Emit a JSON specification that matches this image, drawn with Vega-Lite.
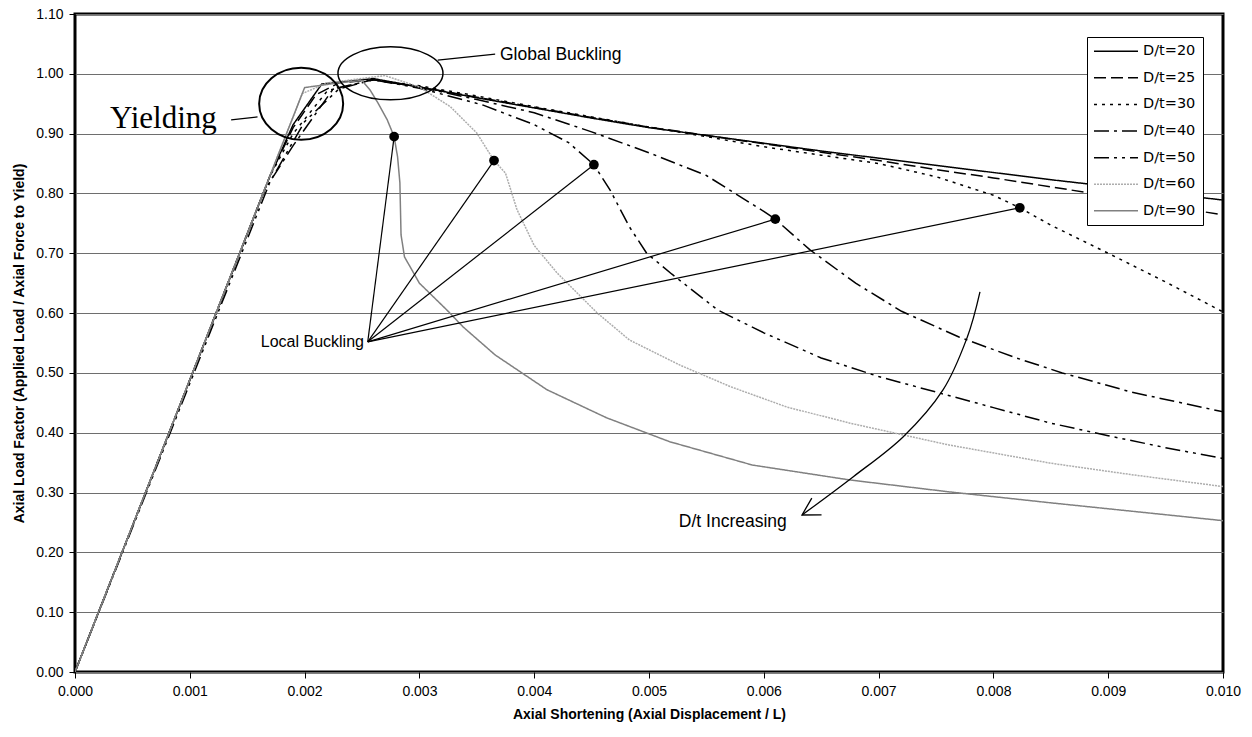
{
  "$schema": "https://vega.github.io/schema/vega-lite/v6.json",
  "width": 1148,
  "height": 658,
  "autosize": {"type": "none"},
  "padding": {"left": 75, "top": 14, "right": 29, "bottom": 65},
  "background": "white",
  "datasets": {
    "curves": [
      {"s": "D/t=20", "x": 0, "y": 0}, {"s": "D/t=20", "x": 0.0017, "y": 0.83}, {"s": "D/t=20", "x": 0.0019, "y": 0.915}, {"s": "D/t=20", "x": 0.00215, "y": 0.983}, {"s": "D/t=20", "x": 0.0026, "y": 0.992}, {"s": "D/t=20", "x": 0.003, "y": 0.978}, {"s": "D/t=20", "x": 0.0035, "y": 0.96}, {"s": "D/t=20", "x": 0.004, "y": 0.943}, {"s": "D/t=20", "x": 0.0045, "y": 0.926}, {"s": "D/t=20", "x": 0.005, "y": 0.91}, {"s": "D/t=20", "x": 0.0055, "y": 0.897}, {"s": "D/t=20", "x": 0.006, "y": 0.884}, {"s": "D/t=20", "x": 0.0065, "y": 0.871}, {"s": "D/t=20", "x": 0.007, "y": 0.859}, {"s": "D/t=20", "x": 0.0075, "y": 0.847}, {"s": "D/t=20", "x": 0.008, "y": 0.835}, {"s": "D/t=20", "x": 0.0085, "y": 0.823}, {"s": "D/t=20", "x": 0.009, "y": 0.812}, {"s": "D/t=20", "x": 0.0095, "y": 0.8}, {"s": "D/t=20", "x": 0.01, "y": 0.789},
      {"s": "D/t=25", "x": 0, "y": 0}, {"s": "D/t=25", "x": 0.0017, "y": 0.83}, {"s": "D/t=25", "x": 0.0019, "y": 0.91}, {"s": "D/t=25", "x": 0.0021, "y": 0.965}, {"s": "D/t=25", "x": 0.0023, "y": 0.985}, {"s": "D/t=25", "x": 0.0026, "y": 0.99}, {"s": "D/t=25", "x": 0.003, "y": 0.978}, {"s": "D/t=25", "x": 0.0035, "y": 0.961}, {"s": "D/t=25", "x": 0.004, "y": 0.944}, {"s": "D/t=25", "x": 0.0045, "y": 0.927}, {"s": "D/t=25", "x": 0.005, "y": 0.911}, {"s": "D/t=25", "x": 0.0055, "y": 0.897}, {"s": "D/t=25", "x": 0.006, "y": 0.883}, {"s": "D/t=25", "x": 0.0065, "y": 0.869}, {"s": "D/t=25", "x": 0.007, "y": 0.855}, {"s": "D/t=25", "x": 0.0075, "y": 0.84}, {"s": "D/t=25", "x": 0.008, "y": 0.826}, {"s": "D/t=25", "x": 0.0085, "y": 0.811}, {"s": "D/t=25", "x": 0.009, "y": 0.796}, {"s": "D/t=25", "x": 0.0095, "y": 0.78}, {"s": "D/t=25", "x": 0.01, "y": 0.764},
      {"s": "D/t=30", "x": 0, "y": 0}, {"s": "D/t=30", "x": 0.0017, "y": 0.83}, {"s": "D/t=30", "x": 0.0019, "y": 0.9}, {"s": "D/t=30", "x": 0.0022, "y": 0.972}, {"s": "D/t=30", "x": 0.0026, "y": 0.99}, {"s": "D/t=30", "x": 0.003, "y": 0.98}, {"s": "D/t=30", "x": 0.0035, "y": 0.963}, {"s": "D/t=30", "x": 0.004, "y": 0.945}, {"s": "D/t=30", "x": 0.0045, "y": 0.928}, {"s": "D/t=30", "x": 0.005, "y": 0.911}, {"s": "D/t=30", "x": 0.0055, "y": 0.895}, {"s": "D/t=30", "x": 0.006, "y": 0.878}, {"s": "D/t=30", "x": 0.0065, "y": 0.864}, {"s": "D/t=30", "x": 0.007, "y": 0.85}, {"s": "D/t=30", "x": 0.0075, "y": 0.828}, {"s": "D/t=30", "x": 0.008, "y": 0.797}, {"s": "D/t=30", "x": 0.00823, "y": 0.776}, {"s": "D/t=30", "x": 0.0085, "y": 0.747}, {"s": "D/t=30", "x": 0.009, "y": 0.7}, {"s": "D/t=30", "x": 0.0095, "y": 0.652}, {"s": "D/t=30", "x": 0.01, "y": 0.602},
      {"s": "D/t=40", "x": 0, "y": 0}, {"s": "D/t=40", "x": 0.00165, "y": 0.805}, {"s": "D/t=40", "x": 0.0019, "y": 0.88}, {"s": "D/t=40", "x": 0.00225, "y": 0.975}, {"s": "D/t=40", "x": 0.0026, "y": 0.99}, {"s": "D/t=40", "x": 0.003, "y": 0.978}, {"s": "D/t=40", "x": 0.0035, "y": 0.957}, {"s": "D/t=40", "x": 0.004, "y": 0.935}, {"s": "D/t=40", "x": 0.0045, "y": 0.903}, {"s": "D/t=40", "x": 0.005, "y": 0.868}, {"s": "D/t=40", "x": 0.0055, "y": 0.83}, {"s": "D/t=40", "x": 0.006, "y": 0.77}, {"s": "D/t=40", "x": 0.0061, "y": 0.757}, {"s": "D/t=40", "x": 0.0064, "y": 0.706}, {"s": "D/t=40", "x": 0.0068, "y": 0.65}, {"s": "D/t=40", "x": 0.0072, "y": 0.603}, {"s": "D/t=40", "x": 0.0077, "y": 0.56}, {"s": "D/t=40", "x": 0.0082, "y": 0.525}, {"s": "D/t=40", "x": 0.0086, "y": 0.5}, {"s": "D/t=40", "x": 0.0092, "y": 0.468}, {"s": "D/t=40", "x": 0.01, "y": 0.435},
      {"s": "D/t=50", "x": 0, "y": 0}, {"s": "D/t=50", "x": 0.0017, "y": 0.82}, {"s": "D/t=50", "x": 0.002, "y": 0.92}, {"s": "D/t=50", "x": 0.0023, "y": 0.975}, {"s": "D/t=50", "x": 0.0026, "y": 0.99}, {"s": "D/t=50", "x": 0.003, "y": 0.976}, {"s": "D/t=50", "x": 0.00355, "y": 0.948}, {"s": "D/t=50", "x": 0.004, "y": 0.915}, {"s": "D/t=50", "x": 0.0043, "y": 0.885}, {"s": "D/t=50", "x": 0.00452, "y": 0.848}, {"s": "D/t=50", "x": 0.00466, "y": 0.806}, {"s": "D/t=50", "x": 0.00483, "y": 0.744}, {"s": "D/t=50", "x": 0.00498, "y": 0.7}, {"s": "D/t=50", "x": 0.0052, "y": 0.665}, {"s": "D/t=50", "x": 0.0056, "y": 0.605}, {"s": "D/t=50", "x": 0.006, "y": 0.567}, {"s": "D/t=50", "x": 0.0065, "y": 0.525}, {"s": "D/t=50", "x": 0.007, "y": 0.494}, {"s": "D/t=50", "x": 0.0075, "y": 0.468}, {"s": "D/t=50", "x": 0.008, "y": 0.442}, {"s": "D/t=50", "x": 0.0085, "y": 0.416}, {"s": "D/t=50", "x": 0.009, "y": 0.395}, {"s": "D/t=50", "x": 0.0095, "y": 0.375}, {"s": "D/t=50", "x": 0.01, "y": 0.357},
      {"s": "D/t=60", "x": 0, "y": 0}, {"s": "D/t=60", "x": 0.00198, "y": 0.967}, {"s": "D/t=60", "x": 0.0022, "y": 0.985}, {"s": "D/t=60", "x": 0.0027, "y": 0.997}, {"s": "D/t=60", "x": 0.003, "y": 0.978}, {"s": "D/t=60", "x": 0.00327, "y": 0.945}, {"s": "D/t=60", "x": 0.0035, "y": 0.901}, {"s": "D/t=60", "x": 0.00365, "y": 0.855}, {"s": "D/t=60", "x": 0.00375, "y": 0.834}, {"s": "D/t=60", "x": 0.00385, "y": 0.773}, {"s": "D/t=60", "x": 0.004, "y": 0.713}, {"s": "D/t=60", "x": 0.0042, "y": 0.667}, {"s": "D/t=60", "x": 0.00455, "y": 0.6}, {"s": "D/t=60", "x": 0.00483, "y": 0.555}, {"s": "D/t=60", "x": 0.00527, "y": 0.513}, {"s": "D/t=60", "x": 0.00571, "y": 0.477}, {"s": "D/t=60", "x": 0.0062, "y": 0.443}, {"s": "D/t=60", "x": 0.00675, "y": 0.416}, {"s": "D/t=60", "x": 0.0076, "y": 0.38}, {"s": "D/t=60", "x": 0.0085, "y": 0.349}, {"s": "D/t=60", "x": 0.0092, "y": 0.33}, {"s": "D/t=60", "x": 0.01, "y": 0.31},
      {"s": "D/t=90", "x": 0, "y": 0}, {"s": "D/t=90", "x": 0.002, "y": 0.977}, {"s": "D/t=90", "x": 0.0023, "y": 0.985}, {"s": "D/t=90", "x": 0.0025, "y": 0.989}, {"s": "D/t=90", "x": 0.00257, "y": 0.973}, {"s": "D/t=90", "x": 0.00264, "y": 0.951}, {"s": "D/t=90", "x": 0.00272, "y": 0.923}, {"s": "D/t=90", "x": 0.00278, "y": 0.895}, {"s": "D/t=90", "x": 0.00281, "y": 0.861}, {"s": "D/t=90", "x": 0.00283, "y": 0.818}, {"s": "D/t=90", "x": 0.00284, "y": 0.731}, {"s": "D/t=90", "x": 0.00287, "y": 0.694}, {"s": "D/t=90", "x": 0.003, "y": 0.65}, {"s": "D/t=90", "x": 0.00324, "y": 0.605}, {"s": "D/t=90", "x": 0.00338, "y": 0.577}, {"s": "D/t=90", "x": 0.00366, "y": 0.53}, {"s": "D/t=90", "x": 0.00411, "y": 0.472}, {"s": "D/t=90", "x": 0.00463, "y": 0.425}, {"s": "D/t=90", "x": 0.00518, "y": 0.385}, {"s": "D/t=90", "x": 0.0059, "y": 0.346}, {"s": "D/t=90", "x": 0.00675, "y": 0.321}, {"s": "D/t=90", "x": 0.00762, "y": 0.301}, {"s": "D/t=90", "x": 0.00849, "y": 0.283}, {"s": "D/t=90", "x": 0.01, "y": 0.253}
    ],
    "dots": [
      {"x": 0.00278, "y": 0.895}, {"x": 0.00365, "y": 0.855}, {"x": 0.00452, "y": 0.848}, {"x": 0.0061, "y": 0.757}, {"x": 0.00823, "y": 0.776}
    ],
    "leaders": [
      {"x": 0.00255, "y": 0.552, "x2": 0.00278, "y2": 0.895},
      {"x": 0.00255, "y": 0.552, "x2": 0.00365, "y2": 0.855},
      {"x": 0.00255, "y": 0.552, "x2": 0.00452, "y2": 0.848},
      {"x": 0.00255, "y": 0.552, "x2": 0.0061, "y2": 0.757},
      {"x": 0.00255, "y": 0.552, "x2": 0.00823, "y2": 0.776},
      {"x": 0.00136, "y": 0.923, "x2": 0.00159, "y2": 0.928},
      {"x": 0.00316, "y": 1.023, "x2": 0.00366, "y2": 1.033}
    ],
    "arrow": [
      {"x": 0.007883, "y": 0.6355}, {"x": 0.00777, "y": 0.5585}, {"x": 0.007561, "y": 0.4716}, {"x": 0.007213, "y": 0.393}, {"x": 0.006777, "y": 0.3261}, {"x": 0.006333, "y": 0.2625}
    ]
  },
  "encoding": {
    "x": {
      "field": "x", "type": "quantitative",
      "scale": {"domain": [0, 0.01], "nice": false, "zero": false},
      "axis": {
        "title": "Axial Shortening (Axial Displacement / L)",
        "values": [0, 0.001, 0.002, 0.003, 0.004, 0.005, 0.006, 0.007, 0.008, 0.009, 0.01],
        "format": ".3f", "grid": false, "domain": false, "tickSize": 6, "labelPadding": 6, "titlePadding": 9, "labelFlush": false
      }
    },
    "y": {
      "field": "y", "type": "quantitative",
      "scale": {"domain": [0, 1.1], "nice": false, "zero": false},
      "axis": {
        "title": "Axial Load Factor (Applied Load / Axial Force to Yield)",
        "values": [0, 0.1, 0.2, 0.3, 0.4, 0.5, 0.6, 0.7, 0.8, 0.9, 1, 1.1],
        "format": ".2f", "grid": true, "domain": false, "tickSize": 6, "labelPadding": 6, "titlePadding": 9, "labelFlush": false
      }
    }
  },
  "layer": [
    {
      "data": {"name": "curves"},
      "mark": {"type": "line", "clip": true},
      "encoding": {
        "color": {"field": "s", "type": "nominal",
          "scale": {"domain": ["D/t=20", "D/t=25", "D/t=30", "D/t=40", "D/t=50", "D/t=60", "D/t=90"], "range": ["#000000", "#000000", "#000000", "#000000", "#000000", "#adadad", "#808080"]},
          "legend": {"title": null}},
        "strokeDash": {"field": "s", "type": "nominal",
          "scale": {"domain": ["D/t=20", "D/t=25", "D/t=30", "D/t=40", "D/t=50", "D/t=60", "D/t=90"], "range": [[1, 0], [12, 5], [3, 5], [15, 5, 3, 5], [15, 5, 3, 5, 3, 5], [2, 1], [1, 0]]},
          "legend": {"title": null}},
        "strokeWidth": {"field": "s", "type": "nominal",
          "scale": {"domain": ["D/t=20", "D/t=25", "D/t=30", "D/t=40", "D/t=50", "D/t=60", "D/t=90"], "range": [1.5, 1.5, 1.5, 1.5, 1.5, 1.8, 2.2]},
          "legend": {"title": null}}
      }
    },
    {
      "data": {"name": "leaders"},
      "mark": {"type": "rule", "color": "black", "strokeWidth": 1.2},
      "encoding": {"x2": {"field": "x2"}, "y2": {"field": "y2"}}
    },
    {
      "data": {"name": "dots"},
      "mark": {"type": "point", "shape": "circle", "filled": true, "color": "black", "size": 95, "opacity": 1}
    },
    {
      "data": {"values": [{"x": 0.00197, "y": 0.95}]},
      "mark": {"type": "point", "shape": "M -1 0 A 1 0.857 0 1 1 1 0 A 1 0.857 0 1 1 -1 0 Z", "filled": false, "color": "black", "strokeWidth": 2, "size": 7056, "opacity": 1}
    },
    {
      "data": {"values": [{"x": 0.002748, "y": 1.0008}]},
      "mark": {"type": "point", "shape": "M -1 0 A 1 0.505 0 1 1 1 0 A 1 0.505 0 1 1 -1 0 Z", "filled": false, "color": "black", "strokeWidth": 1.5, "size": 11025, "opacity": 1}
    },
    {
      "data": {"name": "arrow"},
      "mark": {"type": "line", "color": "black", "strokeWidth": 1.3, "interpolate": "cardinal"}
    },
    {
      "data": {"values": [{"x": 0.006333, "y": 0.2625}]},
      "mark": {"type": "point", "shape": "M 1 -0.577 L 0 0 L 1 0.577", "filled": false, "color": "black", "strokeWidth": 1.3, "size": 1142, "angle": 330, "opacity": 1}
    },
    {
      "data": {"values": [{"label": "Yielding", "x": 0.000305, "y": 0.9097}]},
      "mark": {"type": "text", "font": "Liberation Serif", "fontSize": 31, "align": "left", "baseline": "alphabetic", "color": "black"},
      "encoding": {"text": {"field": "label"}}
    },
    {
      "data": {"values": [{"label": "Global Buckling", "x": 0.003702, "y": 1.0234}, {"label": "D/t Increasing", "x": 0.00526, "y": 0.243}]},
      "mark": {"type": "text", "font": "Liberation Sans", "fontSize": 17.5, "align": "left", "baseline": "alphabetic", "color": "black"},
      "encoding": {"text": {"field": "label"}}
    },
    {
      "data": {"values": [{"label": "Local Buckling", "x": 0.002517, "y": 0.552}]},
      "mark": {"type": "text", "font": "Liberation Sans", "fontSize": 16, "align": "right", "baseline": "middle", "color": "black"},
      "encoding": {"text": {"field": "label"}}
    }
  ],
  "config": {
    "font": "Liberation Sans",
    "view": {"stroke": "black", "strokeWidth": 3},
    "axis": {
      "labelFont": "Liberation Sans", "labelFontSize": 14, "labelColor": "black",
      "titleFont": "Liberation Sans", "titleFontSize": 14, "titleFontWeight": "bold", "titleColor": "black",
      "tickColor": "black", "gridColor": "#6e6e6e", "gridWidth": 1
    },
    "legend": {
      "orient": "none", "legendX": 1012, "legendY": 23, "strokeColor": "black", "fillColor": "white", "padding": 7,
      "labelFont": "DejaVu Sans", "labelFontSize": 14.5, "labelColor": "black",
      "symbolType": "M -4 0 L 4 0", "symbolSize": 121, "rowPadding": 11.6, "symbolOffset": 14.75, "labelOffset": 19.75, "cornerRadius": 0
    }
  }
}
